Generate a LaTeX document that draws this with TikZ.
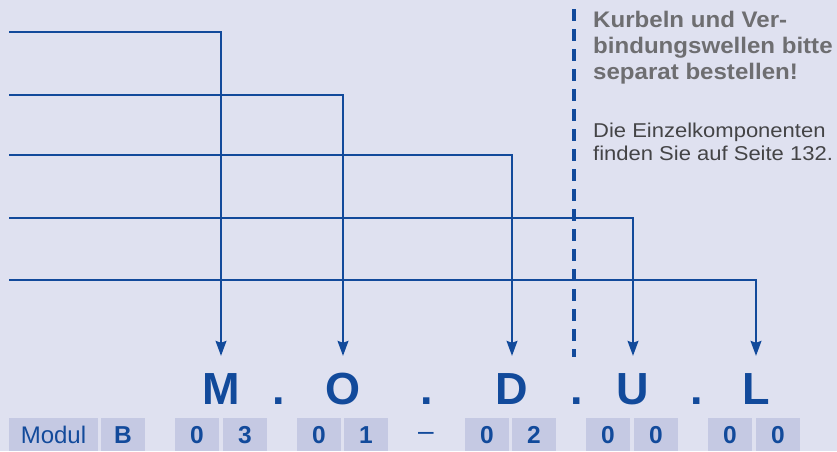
\documentclass[tikz,border=0pt]{standalone}
\usepackage{fontspec}
\setmainfont{Liberation Sans}
\newfontfamily\notefont[FakeStretch=1.1]{Liberation Sans}
\newfontfamily\hintfont[FakeStretch=1.07]{Liberation Sans}
\usetikzlibrary{positioning,arrows.meta}
\definecolor{modblue}{HTML}{124A9B}
\definecolor{modbg}{HTML}{DFE1F0}
\definecolor{modbox}{HTML}{C5C9E3}
\definecolor{modgray}{HTML}{6E6E71}
\definecolor{moddark}{HTML}{444446}

\tikzset{
  letter/.style={anchor=base,font=\bfseries\fontsize{45}{54}\selectfont,text=modblue,
    text height=32pt,text depth=0pt,inner xsep=0pt,inner ysep=16pt},
  codebox/.style={anchor=north,fill=modbox,minimum width=44pt,minimum height=33pt,
    text height=17.5pt,text depth=0pt,inner sep=0pt,
    font=\bfseries\fontsize{24.5}{28}\selectfont,text=modblue},
  conn/.style={draw=modblue,line width=1.3pt,-{Stealth[length=15pt,width=11pt,inset=2pt]}},
}

\begin{document}
\begin{tikzpicture}[x=1pt,y=-1pt]
\fill[modbg] (0,0) rectangle (837,451);
\useasboundingbox (0,0) rectangle (837,451);

% code letters
\node[letter] (lM) at (221,404) {M};
\node[letter] (lO) at (343,404) {O};
\node[letter] (lD) at (512,404) {D};
\node[letter] (lU) at (633,404) {U};
\node[letter] (lL) at (756,404) {L};
\foreach \x [count=\i] in {279,427,577,697}
  \node[letter] (dot\i) at (\x,404) {.};

% left ends of the leaders
\coordinate (s1) at (9,32);
\coordinate (s2) at (9,95);
\coordinate (s3) at (9,155);
\coordinate (s4) at (9,218);
\coordinate (s5) at (9,280);

\draw[conn] (s1) -| (lM);
\draw[conn] (s2) -| (lO);
\draw[conn] (s3) -| (lD);
\draw[conn] (s4) -| (lU);
\draw[conn] (s5) -| (lL);

% separator
\coordinate (sepTop) at (573.5,9);
\coordinate (sepBot) at (573.5,357);
\draw[modblue,line width=4pt,dash pattern=on 12pt off 8pt] (sepTop) -- (sepBot);

% order code boxes
\node[codebox,minimum width=89pt,font=\fontsize{24}{28}\selectfont] (bModul) at (53.5,418) {Modul};
\foreach \x/\t [count=\i] in {123/B,197/0,245/3,319/0,366/1,487/0,534/2,608/0,656/0,730/0,778/0}
  \node[codebox] (b\i) at (\x,418) {\t};
\node[anchor=base,inner sep=0pt,font=\fontsize{28}{32}\selectfont,text=modblue] (dash) at (426,440) {–};

% notes (base = last line)
\node[anchor=base west,align=left,inner sep=0pt,text=modgray,
  font=\hintfont\bfseries\fontsize{22.5}{26}\selectfont] (hint) at (593,79)
  {Kurbeln und Ver-\\bindungswellen bitte\\separat bestellen!};
\node[anchor=base west,align=left,inner sep=0pt,text=moddark,
  font=\notefont\fontsize{20}{23}\selectfont] (info) at (593,160)
  {Die Einzelkomponenten\\finden Sie auf Seite 132.};
\end{tikzpicture}
\end{document}
